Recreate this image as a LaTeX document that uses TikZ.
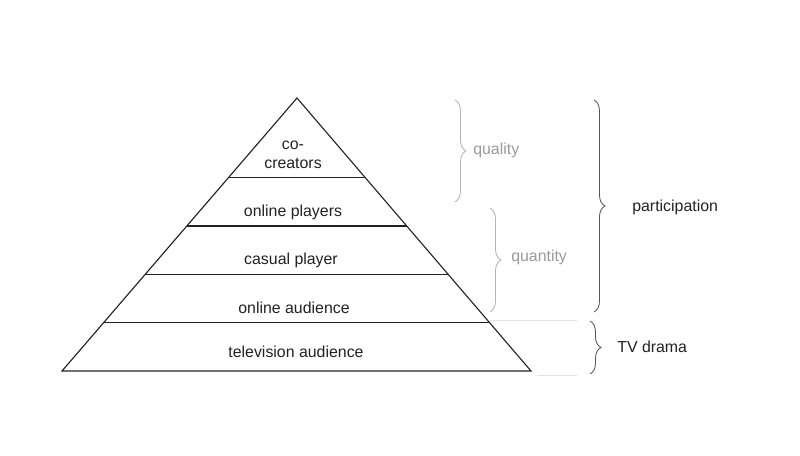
\documentclass[tikz,border=0pt]{standalone}
\usepackage{fontspec}
\setmainfont{Liberation Sans}
\usepackage{tikz}
\usetikzlibrary{calc,decorations.pathreplacing}
\definecolor{ink}{HTML}{222222}
\definecolor{soft}{HTML}{9A9A9A}
\definecolor{bracesoft}{HTML}{B4B4B4}
\definecolor{bracedark}{HTML}{555555}
\definecolor{faint}{HTML}{E4E4E4}
\tikzset{
  edge/.style={draw=ink, line width=0.8pt, line join=miter},
  layer/.style={text=ink, font=\fontsize{11.3}{13.5}\selectfont, align=center, inner sep=0pt},
  side/.style={font=\fontsize{11.3}{13.5}\selectfont, inner sep=0pt, anchor=west},
  curly/.style={decorate, decoration={brace, amplitude=7.8pt}, line width=0.6pt},
  guide/.style={draw=faint, line width=0.6pt}
}

\begin{document}
\begin{tikzpicture}[x=0.025cm, y=-0.025cm]
  \useasboundingbox[fill=white] (0,0) rectangle (800,455);
  % pyramid
  \coordinate (apex) at (297,98);
  \coordinate (bl) at (62,371);
  \coordinate (br) at (531,371);
  \draw[edge] (apex) -- (bl) -- (br) -- cycle;
  \foreach \t in {0.292,0.469,0.646,0.823}
    \draw[edge] ($(apex)!\t!(bl)$) -- ($(apex)!\t!(br)$);
  % layer names
  \node[layer] (cocreators) at (293,155) {co-\\creators};
  \node[layer] (players) at (293,212) {online players};
  \node[layer] (casual) at (291,260) {casual player};
  \node[layer] (online) at (294,308) {online audience};
  \node[layer] (tv) at (296,352) {television audience};
  % faint guides
  \coordinate (g1) at (490,320);
  \coordinate (g2) at (577,320);
  \coordinate (g3) at (537,375);
  \coordinate (g4) at (577,375);
  \draw[guide] (g1) -- (g2);
  \draw[guide] (g3) -- (g4);
  % braces
  \coordinate (qa) at (455,100);
  \coordinate (qb) at (455,202);
  \coordinate (na) at (490,208);
  \coordinate (nb) at (490,312);
  \coordinate (pa) at (594,100);
  \coordinate (pb) at (594,312);
  \coordinate (ta) at (590,321);
  \coordinate (tb) at (590,374);
  \draw[curly, draw=bracesoft] (qa) -- (qb);
  \draw[curly, draw=bracesoft] (na) -- (nb);
  \draw[curly, draw=bracedark] (pa) -- (pb);
  \draw[curly, draw=bracedark] (ta) -- (tb);
  \node[side, text=soft] (quality) at (473,150) {quality};
  \node[side, text=soft] (quantity) at (511,257) {quantity};
  \node[side, text=ink] (participation) at (632,207) {participation};
  \node[side, text=ink] (tvdrama) at (617,347) {TV drama};
\end{tikzpicture}
\end{document}
